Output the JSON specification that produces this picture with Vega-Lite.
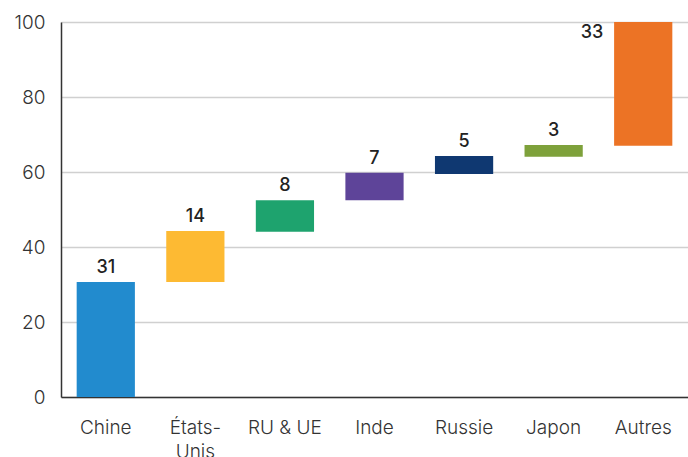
{
  "$schema": "https://vega.github.io/schema/vega-lite/v6.json",
  "width": 627,
  "height": 375,
  "autosize": {"type": "none"},
  "padding": {"left": 61, "top": 22, "right": 0, "bottom": 60},
  "background": "white",
  "config": {
    "view": {"stroke": null},
    "font": "Inter"
  },
  "data": {
    "values": [
      {"pays": "Chine", "start": 0, "end": 30.7, "label": "31", "color": "#228BCE"},
      {"pays": "États-Unis", "start": 30.7, "end": 44.3, "label": "14", "color": "#FDBA33"},
      {"pays": "RU & UE", "start": 44.1, "end": 52.5, "label": "8", "color": "#1EA36E"},
      {"pays": "Inde", "start": 52.5, "end": 59.8, "label": "7", "color": "#5E4499"},
      {"pays": "Russie", "start": 59.5, "end": 64.3, "label": "5", "color": "#0F3871"},
      {"pays": "Japon", "start": 64.1, "end": 67.2, "label": "3", "color": "#7EA13B"},
      {"pays": "Autres", "start": 67.0, "end": 100, "label": "33", "color": "#EC7325"}
    ]
  },
  "encoding": {
    "x": {
      "field": "pays",
      "type": "nominal",
      "sort": null,
      "scale": {"paddingInner": 0.35, "paddingOuter": 0.175},
      "axis": {
        "title": null,
        "labelAngle": 0,
        "labelFontSize": 19,
        "labelFontWeight": 300,
        "labelColor": "#333333",
        "labelPadding": 21,
        "ticks": false,
        "domainColor": "#333333",
        "domainWidth": 1.5,
        "labelExpr": "datum.value == 'États-Unis' ? ['États-', 'Unis'] : datum.value",
        "labelLineHeight": 24
      }
    }
  },
  "layer": [
    {
      "mark": {"type": "bar"},
      "encoding": {
        "y": {
          "field": "start",
          "type": "quantitative",
          "scale": {"domain": [0, 100], "nice": false},
          "axis": {
            "title": null,
            "values": [0, 20, 40, 60, 80, 100],
            "labelFontSize": 19,
            "labelFontWeight": 300,
            "labelColor": "#333333",
            "labelPadding": 16,
            "ticks": false,
            "gridColor": "#d0d0d0",
            "gridWidth": 1.5,
            "domainColor": "#333333",
            "domainWidth": 1.5
          }
        },
        "y2": {"field": "end"},
        "color": {"field": "color", "type": "nominal", "scale": null, "legend": null}
      }
    },
    {
      "transform": [{"filter": "datum.pays != 'Autres'"}],
      "mark": {"type": "text", "baseline": "bottom", "dy": -5, "fontSize": 18, "fontWeight": 500, "color": "#222222"},
      "encoding": {
        "y": {"field": "end", "type": "quantitative"},
        "text": {"field": "label"}
      }
    },
    {
      "transform": [{"filter": "datum.pays == 'Autres'"}],
      "mark": {"type": "text", "baseline": "top", "align": "right", "dx": -40, "dy": 2, "fontSize": 18, "fontWeight": 500, "color": "#222222"},
      "encoding": {
        "y": {"field": "end", "type": "quantitative"},
        "text": {"field": "label"}
      }
    }
  ]
}
